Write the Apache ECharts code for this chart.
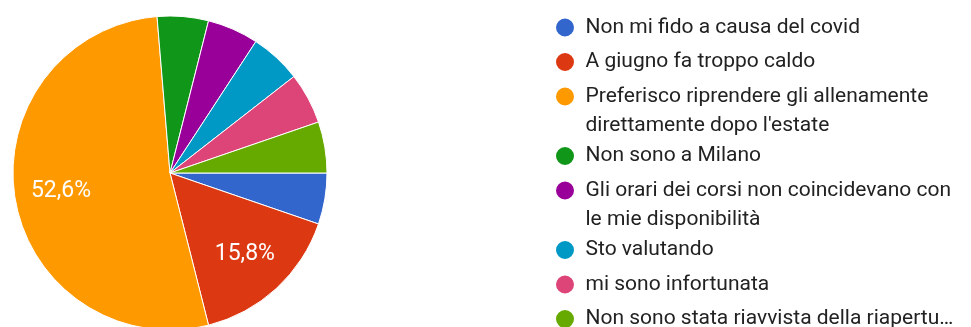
<!DOCTYPE html>
<html>
<head>
<meta charset="utf-8">
<style>
  html, body { margin: 0; padding: 0; background: #ffffff; }
  #chart { width: 971px; height: 327px; }
</style>
<script src="https://cdn.jsdelivr.net/npm/echarts@6/dist/echarts.min.js"></script>
</head>
<body>
<div id="chart"></div>
<script>
// Answers and number of responses for each one
const categories = [
  "Non mi fido a causa del covid",
  "A giugno fa troppo caldo",
  "Preferisco riprendere gli allenamente direttamente dopo l'estate",
  "Non sono a Milano",
  "Gli orari dei corsi non coincidevano con le mie disponibilità",
  "Sto valutando",
  "mi sono infortunata",
  "Non sono stata riavvista della riapertu…"
];
const counts = [1, 3, 10, 1, 1, 1, 1, 1];

// Legend text as it is laid out (wrapped lines)
const legendLabels = [
  "Non mi fido a causa del covid",
  "A giugno fa troppo caldo",
  "Preferisco riprendere gli allenamente\ndirettamente dopo l'estate",
  "Non sono a Milano",
  "Gli orari dei corsi non coincidevano con\nle mie disponibilità",
  "Sto valutando",
  "mi sono infortunata",
  "Non sono stata riavvista della riapertu…"
];

const palette = ["#3366cc", "#dc3912", "#ff9900", "#109618", "#990099", "#0099c6", "#dd4477", "#66aa00"];

const FONT = "Roboto, Arial, 'Liberation Sans', sans-serif";
const LINE_H = 29;
const total = counts.reduce((a, b) => a + b, 0);

const pieData = categories.map((name, i) => ({
  name: name,
  value: counts[i],
  itemStyle: { color: palette[i] }
}));

// Wrapped legend entries: shift the text block so the marker sits beside the first line
const legendData = categories.map((name, i) => {
  const lines = legendLabels[i].split("\n").length;
  const item = { name: name };
  if (lines > 1) {
    item.textStyle = { padding: [0, 0, -(lines - 1) * LINE_H, 0] };
  }
  return item;
});

const chart = echarts.init(document.getElementById("chart"), null, { renderer: "canvas" });

chart.setOption({
  animation: false,
  backgroundColor: "#ffffff",
  color: palette,
  legend: {
    orient: "vertical",
    left: 554,
    top: 13,
    height: 400,
    padding: 0,
    itemGap: 5.5,
    itemWidth: 31,
    itemHeight: 20,
    icon: "circle",
    selectedMode: false,
    data: legendData,
    formatter: function (name) {
      return legendLabels[categories.indexOf(name)];
    },
    textStyle: {
      fontFamily: FONT,
      fontSize: 21,
      color: "#222222",
      lineHeight: LINE_H,
      rich: { t: {} }
    }
  },
  series: [
    {
      name: "risposte",
      type: "pie",
      center: [170, 173],
      radius: [0, 157],
      startAngle: 0,
      clockwise: true,
      silent: true,
      avoidLabelOverlap: false,
      label: { show: false },
      labelLine: { show: false },
      emphasis: { disabled: true },
      itemStyle: { borderColor: "#ffffff", borderWidth: 1 },
      data: pieData
    },
    {
      // Percentage labels placed at about 68% of the radius
      name: "etichette",
      type: "pie",
      center: [170, 173],
      radius: [58, 157],
      startAngle: 0,
      clockwise: true,
      silent: true,
      avoidLabelOverlap: false,
      emphasis: { disabled: true },
      itemStyle: { color: "rgba(0,0,0,0)", borderWidth: 0 },
      labelLine: { show: false },
      label: {
        show: true,
        position: "inside",
        fontFamily: FONT,
        fontSize: 23,
        color: "#ffffff",
        formatter: function (p) {
          const pct = p.value / total * 100;
          if (pct < 10) return "";
          return pct.toFixed(1).replace(".", ",") + "%";
        }
      },
      data: categories.map((name, i) => ({ name: name, value: counts[i] }))
    }
  ]
});
</script>
</body>
</html>
